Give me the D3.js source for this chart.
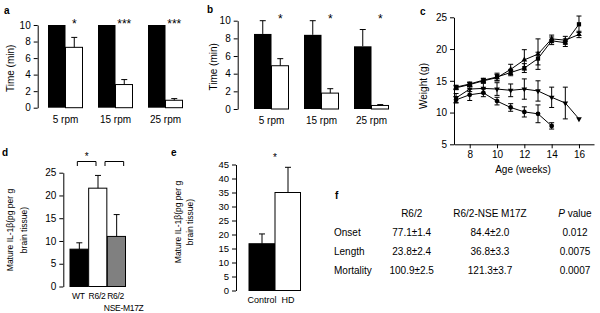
<!DOCTYPE html>
<html><head><meta charset="utf-8">
<script src="https://cdn.jsdelivr.net/npm/d3@7"></script>
<style>
body{margin:0;background:#fff}
text{font-family:"Liberation Sans",Arial,Helvetica,sans-serif;fill:#000}
</style></head><body>
<script>
// ---- data ----
// a: rotarod, first group
const rpmGroups = ["5 rpm", "15 rpm", "25 rpm"];
const aBlack = [10, 10, 10];
const aWhite = [7.3, 2.8, 0.9];
const aWhiteErr = [1.2, 0.6, 0.2];
const aStars = ["*", "***", "***"];
// b: rotarod, second group
const bBlack = [8.5, 8.4, 7.1];
const bBlackErr = [1.5, 1.6, 1.9];
const bWhite = [4.9, 1.8, 0.4];
const bWhiteErr = [0.8, 0.5, 0.1];
const bStars = ["*", "*", "*"];
// c: body weight
const weeks = [7, 8, 9, 10, 11, 12, 13, 14, 15, 16];
const cSquare = [14.0, 14.5, 15.1, 15.6, 16.3, 17.0, 18.5, 21.3, 21.0, 23.9];
const cSquareErr = [0.3, 0.3, 0.3, 0.6, 0.5, 0.7, 1.0, 0.6, 0.6, 1.3];
const cTri = [13.9, 14.4, 15.0, 15.5, 16.8, 18.3, 19.2, 21.6, 21.4, 22.3];
const cTriErr = [0.3, 0.3, 0.3, 0.5, 0.8, 1.6, 2.4, 0.6, 0.6, 0.5];
const cInv = [12.3, 13.7, 13.8, 13.7, 13.5, 13.7, 13.4, 12.4, 11.5, 9.0];
const cInvErr = [0.7, 0.4, 0.8, 1.0, 1.0, 1.6, 1.6, 1.6, 2.5, 0];
const weeksD = [7, 8, 9, 10, 11, 12, 13, 14];
const cCirc = [12.0, 12.8, 13.1, 11.8, 10.8, 10.1, 9.8, 7.9];
const cCircErr = [0.5, 0.9, 0.6, 0.6, 0.6, 0.8, 1.4, 0.5];
// d: IL-1beta, mice
const dGroups = ["WT", "R6/2", "R6/2 NSE-M17Z"];
const dVals = [8.2, 21.6, 11.0];
const dErr = [1.4, 2.8, 4.8];
const dFill = ["#000", "#fff", "#808080"];
// e: IL-1beta, human
const eGroups = ["Control", "HD"];
const eVals = [16.7, 35.0];
const eErr = [3.5, 9.0];
// f: table
const fHeads = ["R6/2", "R6/2-NSE M17Z", "P value"];
const fRows = ["Onset", "Length", "Mortality"];
const fR62 = ["77.1±1.4", "23.8±2.4", "100.9±2.5"];
const fNse = ["84.4±2.0", "36.8±3.3", "121.3±3.7"];
const fP = ["0.012", "0.0075", "0.0007"];

const svg = d3.select("body").append("svg")
    .attr("width", 600).attr("height", 313);

// small helpers
function leftAxis(scale, x, ticks, fs) {
    const g = svg.append("g").attr("transform", "translate(" + x + ",0)")
        .call(d3.axisLeft(scale).tickValues(ticks).tickSize(4).tickSizeOuter(0).tickPadding(3));
    g.attr("font-family", null).attr("font-size", fs || 10);
    g.selectAll("path,line").attr("stroke", "#000");
    return g;
}
function errBar(x, y0, y1, cap) {
    svg.append("line").attr("x1", x).attr("x2", x).attr("y1", y0).attr("y2", y1)
        .attr("stroke", "#000").attr("stroke-width", 1);
    svg.append("line").attr("x1", x - cap / 2).attr("x2", x + cap / 2).attr("y1", y1).attr("y2", y1)
        .attr("stroke", "#000").attr("stroke-width", 1);
}
function vTitle(lines, x, y, fs, gap) {
    lines.forEach(function(t, i) {
        svg.append("text").attr("transform", "translate(" + (x + i * gap) + "," + y + ") rotate(-90)")
            .attr("text-anchor", "middle").attr("font-size", fs).text(t);
    });
}
function letter(t, x, y) {
    svg.append("text").attr("x", x).attr("y", y).attr("font-size", 10)
        .attr("font-weight", "bold").text(t);
}

// ---- panels a and b (same layout) ----
function rotarod(x0, x1, yTop, yBot, black, blackErr, white, whiteErr, stars, axisX, titleX) {
    const y = d3.scaleLinear().domain([0, 10]).range([yBot, yTop]);
    const x = d3.scaleBand().domain(rpmGroups).range([x0, x1]).paddingInner(0.3).paddingOuter(0);
    const sub = d3.scaleBand().domain(["k", "w"]).range([0, x.bandwidth()]);
    rpmGroups.forEach(function(g, i) {
        svg.append("rect").attr("x", x(g) + sub("k")).attr("y", y(black[i]))
            .attr("width", sub.bandwidth()).attr("height", y(0) - y(black[i])).attr("fill", "#000");
        if (blackErr) errBar(x(g) + sub("k") + sub.bandwidth() / 2, y(black[i]), y(black[i] + blackErr[i]), 6);
        svg.append("rect").attr("x", x(g) + sub("w")).attr("y", y(white[i]))
            .attr("width", sub.bandwidth() - 0.5).attr("height", y(0) - y(white[i]))
            .attr("fill", "#fff").attr("stroke", "#000").attr("stroke-width", 1);
        errBar(x(g) + sub("w") + sub.bandwidth() / 2, y(white[i]), y(white[i] + whiteErr[i]), 6);
        svg.append("text").attr("x", x(g) + sub("w") + sub.bandwidth() / 2).attr("y", yTop + 2.5)
            .attr("text-anchor", "middle").attr("font-size", 12).text(stars[i]);
        svg.append("text").attr("x", x(g) + x.bandwidth() / 2).attr("y", yBot + 15)
            .attr("text-anchor", "middle").attr("font-size", 10).text(g);
    });
    leftAxis(y, axisX, [0, 2, 4, 6, 8, 10]);
    vTitle(["Time (min)"], titleX, (yTop + yBot) / 2 + 2, 10, 0);
}
rotarod(48, 183, 25, 107.7, aBlack, null, aWhite, aWhiteErr, aStars, 37.7, 14);
letter("a", 4, 14);
rotarod(254, 389, 20.7, 109, bBlack, bBlackErr, bWhite, bWhiteErr, bStars, 237.7, 217);
letter("b", 207, 13);

// ---- panel c ----
const xc = d3.scaleLinear().domain([6.85, 17.1]).range([454, 594]);
const yc = d3.scaleLinear().domain([5, 25]).range([144.3, 17.3]);
leftAxis(yc, 454, [5, 10, 15, 20, 25]);
const xg = svg.append("g").attr("transform", "translate(0," + 144.3 + ")")
    .call(d3.axisBottom(xc).tickValues([8, 10, 12, 14, 16]).tickSize(4).tickSizeOuter(0).tickPadding(3));
xg.attr("font-family", null).attr("font-size", 10);
xg.selectAll("path,line").attr("stroke", "#000");
svg.append("text").attr("x", 523).attr("y", 173).attr("text-anchor", "middle")
    .attr("font-size", 10).text("Age (weeks)");
vTitle(["Weight (g)"], 427, 86, 10, 0);
letter("c", 420, 15);

const cSeries = [
    {w: weeks, v: cSquare, e: cSquareErr, sym: d3.symbolSquare, rot: 0, size: 18},
    {w: weeks, v: cTri, e: cTriErr, sym: d3.symbolTriangle, rot: 0, size: 14},
    {w: weeks, v: cInv, e: cInvErr, sym: d3.symbolTriangle, rot: 180, size: 14},
    {w: weeksD, v: cCirc, e: cCircErr, sym: d3.symbolCircle, rot: 0, size: 18}
];
const line = d3.line().x(function(d) { return xc(d[0]); }).y(function(d) { return yc(d[1]); });
cSeries.forEach(function(s) {
    const pts = s.w.map(function(w, i) { return [w, s.v[i], s.e[i]]; });
    svg.append("path").datum(pts).attr("d", line)
        .attr("fill", "none").attr("stroke", "#000").attr("stroke-width", 1);
    pts.forEach(function(p) {
        if (p[2] > 0) {
            errBar(xc(p[0]), yc(p[1]), yc(p[1] + p[2]), 5);
            errBar(xc(p[0]), yc(p[1]), yc(p[1] - p[2]), 5);
        }
    });
    svg.selectAll(null).data(pts).join("path")
        .attr("transform", function(d) { return "translate(" + xc(d[0]) + "," + yc(d[1]) + ") rotate(" + s.rot + ")"; })
        .attr("d", d3.symbol().type(s.sym).size(s.size)).attr("fill", "#000");
});

// ---- panel d ----
const yd = d3.scaleLinear().domain([0, 25]).range([286.5, 172.7]);
const xd = d3.scaleBand().domain(dGroups).range([70, 126]);
svg.selectAll(null).data(dGroups).join("rect")
    .attr("x", function(d) { return xd(d); }).attr("y", function(d, i) { return yd(dVals[i]); })
    .attr("width", xd.bandwidth() - 0.5).attr("height", function(d, i) { return yd(0) - yd(dVals[i]); })
    .attr("fill", function(d, i) { return dFill[i]; })
    .attr("stroke", "#000").attr("stroke-width", 1);
dGroups.forEach(function(g, i) {
    const cx = xd(g) + xd.bandwidth() / 2;
    errBar(cx, yd(dVals[i]), yd(dVals[i] + dErr[i]), 6);
    const parts = g.split(" ");
    svg.append("text").attr("x", cx - 1).attr("y", 299).attr("text-anchor", "middle")
        .attr("font-size", 8.5).attr("letter-spacing", -0.3).text(parts[0]);
    if (parts[1]) svg.append("text").attr("x", cx + 7).attr("y", 311).attr("text-anchor", "middle")
        .attr("font-size", 8.5).attr("letter-spacing", -0.3).text(parts[1]);
});
// comparison brackets
[[0, 1, "*", -2], [1, 2, "", 7]].forEach(function(b) {
    const l = xd(dGroups[b[0]]) + xd.bandwidth() / 2 + b[3];
    const r = xd(dGroups[b[1]]) + xd.bandwidth() / 2 + b[3];
    svg.append("path").attr("d", "M" + l + ",166V161.5H" + r + "V166")
        .attr("fill", "none").attr("stroke", "#000").attr("stroke-width", 1);
    if (b[2]) svg.append("text").attr("x", (l + r) / 2).attr("y", 160).attr("text-anchor", "middle")
        .attr("font-size", 10).text(b[2]);
});
leftAxis(yd, 63.3, [0, 5, 10, 15, 20, 25]);
vTitle(["Mature IL-1β(pg per g", "brain tissue)"], 13, 230, 8.5, 14);
letter("d", 2, 156);

// ---- panel e ----
const ye = d3.scaleLinear().domain([0, 45]).range([290.5, 164.5]);
const xe = d3.scaleBand().domain(eGroups).range([249, 301]);
svg.selectAll(null).data(eGroups).join("rect")
    .attr("x", function(d) { return xe(d); }).attr("y", function(d, i) { return ye(eVals[i]); })
    .attr("width", xe.bandwidth() - 0.5).attr("height", function(d, i) { return ye(0) - ye(eVals[i]); })
    .attr("fill", function(d, i) { return i === 0 ? "#000" : "#fff"; })
    .attr("stroke", "#000").attr("stroke-width", 1);
eGroups.forEach(function(g, i) {
    const cx = xe(g) + xe.bandwidth() / 2;
    errBar(cx, ye(eVals[i]), ye(eVals[i] + eErr[i]), 6);
    svg.append("text").attr("x", cx).attr("y", 302.5).attr("text-anchor", "middle")
        .attr("font-size", 9).text(g);
});
svg.append("text").attr("x", 275).attr("y", 161).attr("text-anchor", "middle")
    .attr("font-size", 10).text("*");
leftAxis(ye, 236, d3.range(0, 50, 5), 9.5);
vTitle(["Mature IL-1β(pg per g", "brain tissue)"], 181, 222, 8.5, 12);
letter("e", 171, 156);

// ---- panel f (table) ----
letter("f", 335, 199);
const colX = [411.7, 490, 575];
const rowY = d3.scalePoint().domain(fRows).range([232.3, 270.7]);
fHeads.forEach(function(h, j) {
    const t = svg.append("text").attr("x", colX[j]).attr("y", 217)
        .attr("text-anchor", "middle").attr("font-size", 10);
    if (h.indexOf("P ") === 0) {
        t.append("tspan").attr("font-style", "italic").text("P");
        t.append("tspan").text(h.slice(1));
    } else t.text(h);
});
fRows.forEach(function(r, i) {
    const y = rowY(r) + 3.5;
    svg.append("text").attr("x", 334).attr("y", y).attr("font-size", 10).text(r);
    [fR62[i], fNse[i], fP[i]].forEach(function(v, j) {
        svg.append("text").attr("x", colX[j]).attr("y", y).attr("text-anchor", "middle")
            .attr("font-size", 10).text(v);
    });
});
</script>
</body></html>
